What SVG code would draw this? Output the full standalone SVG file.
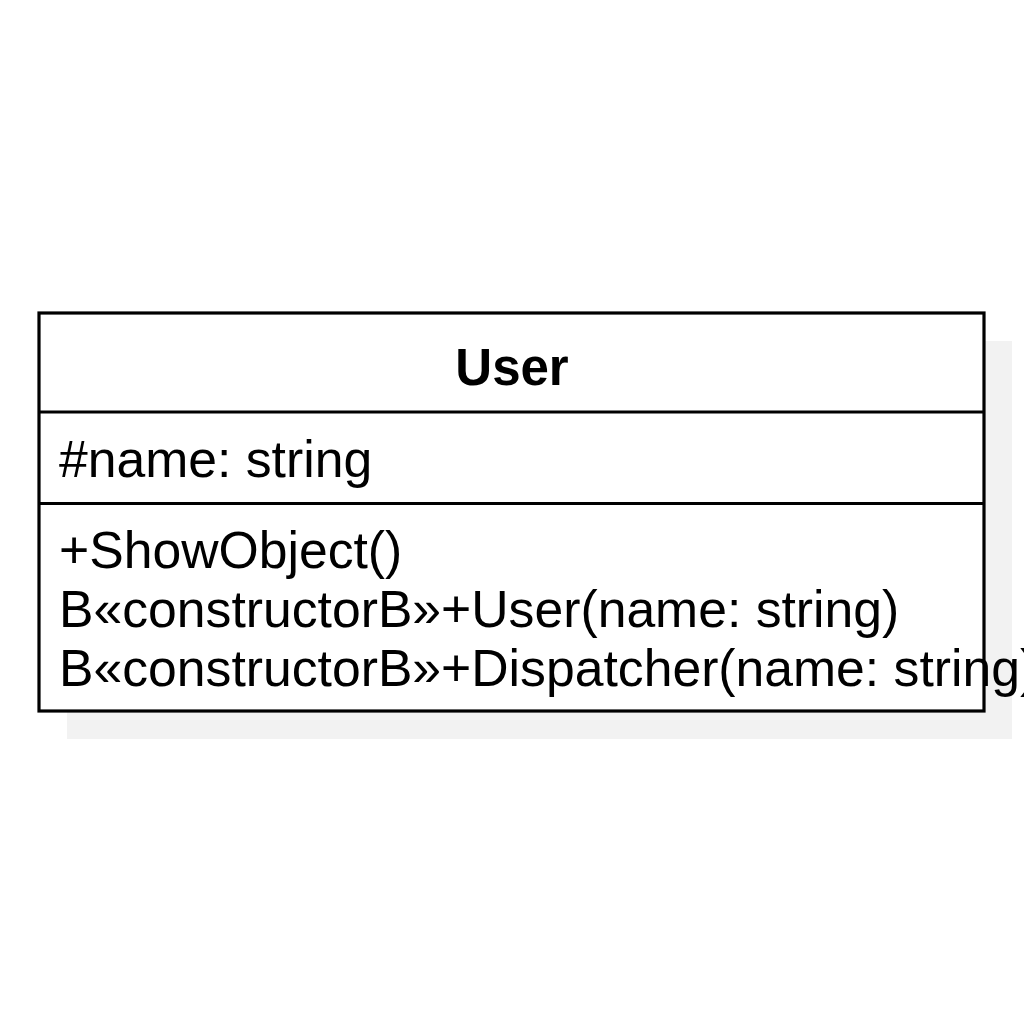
<svg xmlns="http://www.w3.org/2000/svg" width="1024" height="1024" viewBox="0 0 1024 1024">
<style>
.box{fill:#ffffff;stroke:#000000;stroke-width:3.2}
.shadow{fill:#f2f2f2;stroke:none}
.div{stroke:#000000;stroke-width:3.2;fill:none}
.t{font-family:"Liberation Sans",Arial,sans-serif;font-size:51.7px;fill:#000000}
.title{font-family:"Liberation Sans",Arial,sans-serif;font-size:51px;font-weight:bold;fill:#000000}
</style>
<rect width="1024" height="1024" fill="#ffffff"/>
<g id="User">
<rect class="shadow" x="67" y="341" width="945" height="398"/>
<rect class="box" x="39" y="313" width="945" height="398"/>
<line class="div" x1="39" y1="412" x2="984" y2="412"/>
<line class="div" x1="39" y1="503.5" x2="984" y2="503.5"/>
<text class="title" x="512" y="385" text-anchor="middle">User</text>
<text class="t" x="59" y="477">#name: string</text>
<text class="t" x="59" y="568">+ShowObject()</text>
<text class="t" x="59" y="627">B«constructorB»+User(name: string)</text>
<text class="t" x="59" y="686">B«constructorB»+Dispatcher(name: string)</text>
</g>
<g id="connectors"/>
</svg>
